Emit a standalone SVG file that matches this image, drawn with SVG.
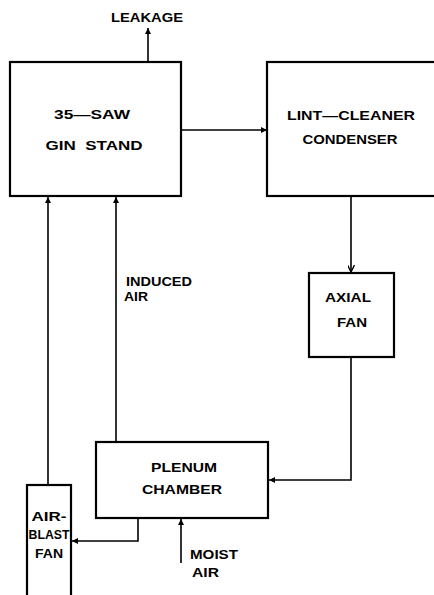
<svg xmlns="http://www.w3.org/2000/svg" width="434" height="595" viewBox="0 0 434 595">
<style>
.box{fill:#fff;stroke:#000;stroke-width:2.2}
.ln{fill:none;stroke:#000;stroke-width:1.6}
text{font-family:"Liberation Sans",Arial,sans-serif;font-weight:bold;fill:#000;text-anchor:middle;font-size:12.5px}
.l{text-anchor:start}
</style>
<defs>
<marker id="ah" viewBox="0 0 10 10" refX="10" refY="5" markerWidth="6" markerHeight="6" orient="auto" markerUnits="userSpaceOnUse">
<path d="M0,0 L10,5 L0,10 z" fill="#000"/>
</marker>
<marker id="oh" viewBox="0 0 10 10" refX="10" refY="5" markerWidth="7" markerHeight="7" orient="auto" markerUnits="userSpaceOnUse">
<path d="M0,0 L10,5 L0,10" fill="none" stroke="#000" stroke-width="2"/>
</marker>
</defs>
<rect width="434" height="595" fill="#fff"/>
<g id="connectors">
<line class="ln" x1="148" y1="62" x2="148" y2="28" marker-end="url(#ah)"/>
<line class="ln" x1="181" y1="130" x2="267" y2="130" marker-end="url(#ah)"/>
<line class="ln" x1="351" y1="196" x2="351" y2="272" marker-end="url(#oh)"/>
<polyline class="ln" points="351,357 351,480 269,480" marker-end="url(#ah)"/>
<polyline class="ln" points="138,518 138,541 72,541" marker-end="url(#ah)"/>
<line class="ln" x1="181" y1="563" x2="181" y2="519" marker-end="url(#ah)"/>
<line class="ln" x1="48" y1="485" x2="48" y2="197" marker-end="url(#ah)"/>
<line class="ln" x1="116" y1="442" x2="116" y2="197" marker-end="url(#ah)"/>
<text class="l" x="126" y="286" textLength="66" lengthAdjust="spacingAndGlyphs">INDUCED</text>
<text class="l" x="124" y="301" textLength="24" lengthAdjust="spacingAndGlyphs">AIR</text>
<text class="l" x="190" y="559" textLength="48" lengthAdjust="spacingAndGlyphs">MOIST</text>
<text class="l" x="192" y="577" textLength="27" lengthAdjust="spacingAndGlyphs">AIR</text>
<text x="147" y="22" textLength="72" lengthAdjust="spacingAndGlyphs">LEAKAGE</text>
</g>
<g id="gin-stand">
<rect class="box" x="10" y="62" width="171" height="134"/>
<text x="92" y="119" textLength="76" lengthAdjust="spacingAndGlyphs">35—SAW</text>
<text x="94" y="150" textLength="97" lengthAdjust="spacingAndGlyphs" xml:space="preserve">GIN  STAND</text>
</g>
<g id="lint-cleaner">
<rect class="box" x="267" y="62" width="180" height="134"/>
<text x="351" y="120" font-size="13.5" textLength="128" lengthAdjust="spacingAndGlyphs">LINT—CLEANER</text>
<text x="350" y="144" textLength="95" lengthAdjust="spacingAndGlyphs">CONDENSER</text>
</g>
<g id="axial-fan">
<rect class="box" x="309" y="273" width="85" height="84"/>
<text x="348" y="302" textLength="46" lengthAdjust="spacingAndGlyphs">AXIAL</text>
<text x="352" y="327" textLength="30" lengthAdjust="spacingAndGlyphs">FAN</text>
</g>
<g id="plenum-chamber">
<rect class="box" x="96" y="442" width="172" height="76"/>
<text x="184" y="472" textLength="66" lengthAdjust="spacingAndGlyphs">PLENUM</text>
<text x="182" y="494" textLength="80" lengthAdjust="spacingAndGlyphs">CHAMBER</text>
</g>
<g id="air-blast-fan">
<rect class="box" x="27" y="485" width="44" height="120"/>
<text x="49" y="521" textLength="35" lengthAdjust="spacingAndGlyphs">AIR-</text>
<text x="49" y="539" font-size="11.5" textLength="41" lengthAdjust="spacingAndGlyphs">BLAST</text>
<text x="49" y="558" textLength="28" lengthAdjust="spacingAndGlyphs">FAN</text>
</g>
</svg>
